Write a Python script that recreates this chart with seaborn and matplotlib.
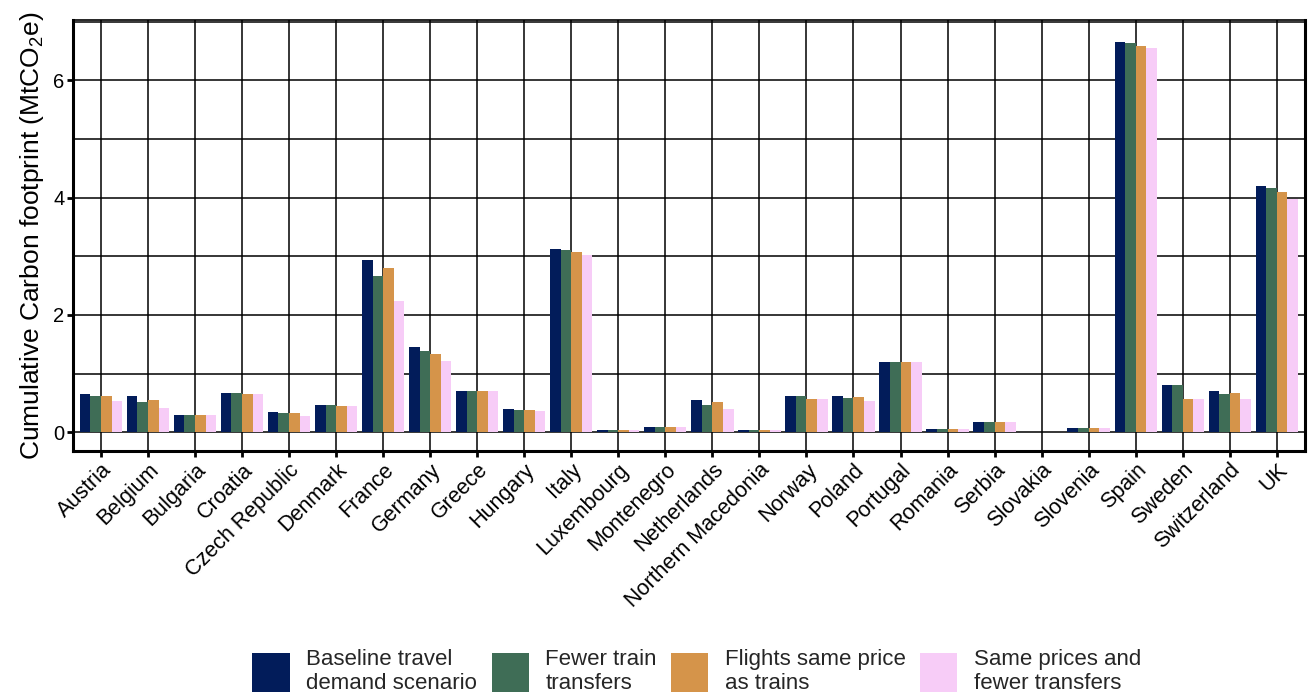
import matplotlib
matplotlib.use("Agg")
import matplotlib.pyplot as plt
import seaborn as sns
import pandas as pd
import numpy as np
from matplotlib.ticker import FixedLocator

countries = ["Austria", "Belgium", "Bulgaria", "Croatia", "Czech Republic", "Denmark",
             "France", "Germany", "Greece", "Hungary", "Italy", "Luxembourg", "Montenegro",
             "Netherlands", "Northern Macedonia", "Norway", "Poland", "Portugal", "Romania",
             "Serbia", "Slovakia", "Slovenia", "Spain", "Sweden", "Switzerland", "UK"]

scenarios = ["Baseline travel\ndemand scenario", "Fewer train\ntransfers",
             "Flights same price\nas trains", "Same prices and\nfewer transfers"]

baseline = [0.66, 0.61, 0.30, 0.67, 0.35, 0.47, 2.94, 1.46, 0.71, 0.40, 3.12, 0.045, 0.096,
            0.555, 0.045, 0.62, 0.62, 1.19, 0.062, 0.18, 0.01, 0.079, 6.65, 0.81, 0.71, 4.20]
fewer_transfers = [0.61, 0.52, 0.30, 0.67, 0.32, 0.47, 2.66, 1.39, 0.71, 0.385, 3.10, 0.045, 0.096,
                   0.47, 0.045, 0.62, 0.59, 1.19, 0.062, 0.18, 0.01, 0.079, 6.64, 0.81, 0.66, 4.165]
flights_same = [0.62, 0.555, 0.30, 0.66, 0.335, 0.45, 2.80, 1.34, 0.71, 0.385, 3.07, 0.045, 0.096,
                0.52, 0.045, 0.57, 0.605, 1.19, 0.062, 0.18, 0.01, 0.079, 6.59, 0.57, 0.675, 4.10]
same_and_fewer = [0.54, 0.42, 0.30, 0.66, 0.285, 0.45, 2.24, 1.22, 0.71, 0.37, 3.02, 0.045, 0.096,
                  0.40, 0.045, 0.57, 0.54, 1.19, 0.062, 0.18, 0.01, 0.079, 6.55, 0.57, 0.57, 3.98]

colors = ["#021C5A", "#3F6D56", "#D5944A", "#F7CCF7"]

rows = []
for s, vals in zip(scenarios, [baseline, fewer_transfers, flights_same, same_and_fewer]):
    for c, v in zip(countries, vals):
        rows.append({"country": c, "scenario": s, "value": v})
df = pd.DataFrame(rows)

sns.set_theme(style="white")
plt.rcParams["font.family"] = ["Liberation Sans", "DejaVu Sans"]
plt.rcParams["mathtext.fontset"] = "custom"
plt.rcParams["mathtext.rm"] = "Liberation Sans"
plt.rcParams["mathtext.it"] = "Liberation Sans:italic"

fig = plt.figure(figsize=(13.10, 6.93), dpi=100)
ax = fig.add_axes([72.7 / 1310, 1 - 451 / 693, (1305 - 72.7) / 1310, (451 - 20) / 693])

sns.barplot(data=df, x="country", y="value", hue="scenario", order=countries,
            hue_order=scenarios, palette=colors, width=0.9, saturation=1,
            edgecolor="none", linewidth=0, ax=ax, zorder=3)

ax.set_xlim(-0.6, 25.6)
ax.set_ylim(-0.32, 7.03)
ax.yaxis.set_major_locator(FixedLocator([0, 2, 4, 6]))
ax.yaxis.set_minor_locator(FixedLocator([1, 3, 5, 7]))
ax.set_axisbelow(True)
ax.grid(True, which="both", axis="y", color="black", linewidth=1.1, zorder=0)
ax.grid(True, which="major", axis="x", color="black", linewidth=1.1, zorder=0)
ax.tick_params(axis="both", which="major", direction="out", length=4, width=2,
               color="black", labelcolor="black", pad=2, bottom=True, left=True)
ax.tick_params(axis="y", which="major", labelsize=14.5)
ax.tick_params(axis="x", which="major", labelsize=15.5)
ax.tick_params(axis="y", which="minor", length=0)
plt.setp(ax.get_xticklabels(), rotation=45, ha="right", rotation_mode="anchor")

for side in ["left", "bottom", "right"]:
    ax.spines[side].set_color("black")
    ax.spines[side].set_linewidth(2.2)
ax.spines["top"].set_color("black")
ax.spines["top"].set_linewidth(1.2)

ax.set_xlabel("")
ax.set_ylabel("Cumulative Carbon footprint (MtCO$_2$e)", fontsize=19, color="black", labelpad=5)

handles, labels = ax.get_legend_handles_labels()
ax.get_legend().remove()
fig.legend(handles, labels, loc="lower center", bbox_to_anchor=(0.532, -0.03), ncol=4,
           frameon=False, fontsize=16, handlelength=1.67, handleheight=2.3,
           handletextpad=0.75, columnspacing=0.65, labelspacing=0.2)

fig.savefig("out.png", dpi=100)
